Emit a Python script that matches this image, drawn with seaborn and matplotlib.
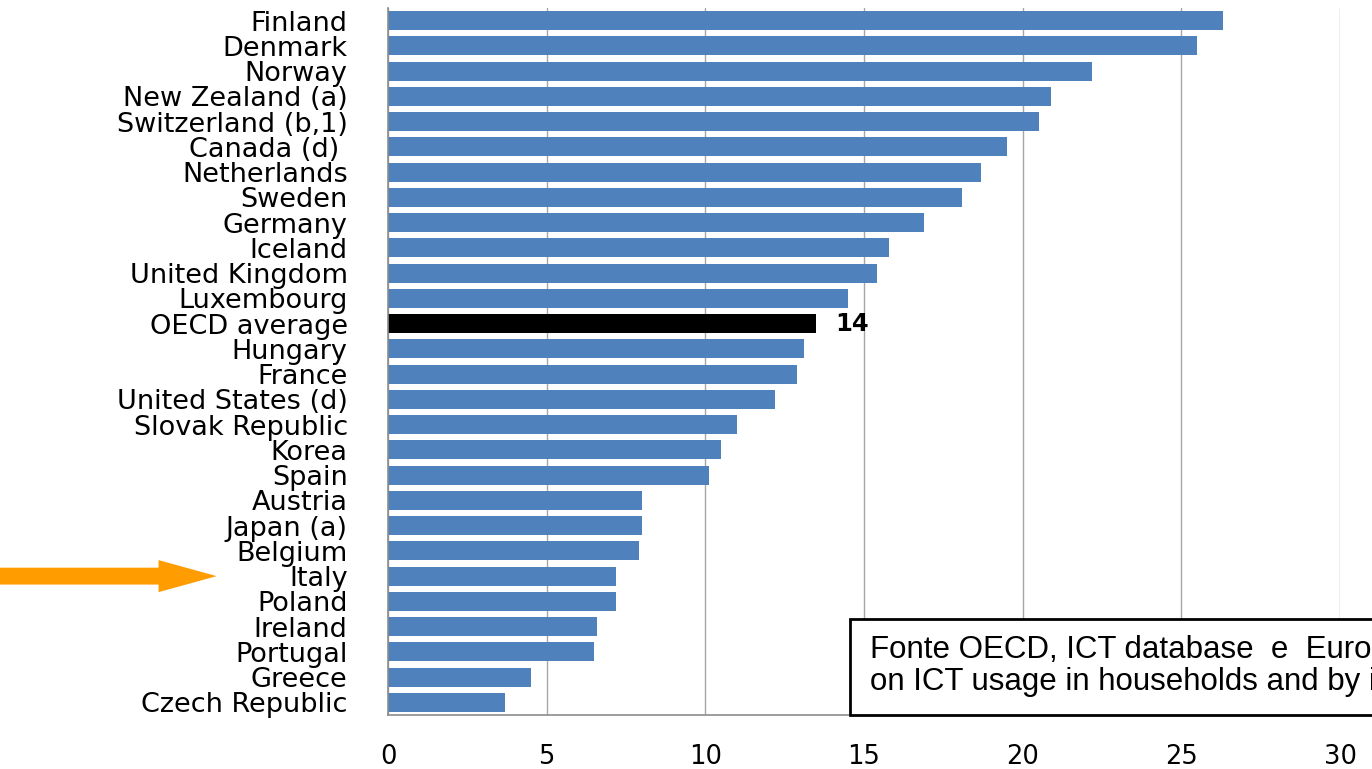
import pandas as pd
import seaborn as sns
import matplotlib.pyplot as plt
from matplotlib.patches import FancyArrow, Rectangle

countries = ["Finland", "Denmark", "Norway", "New Zealand (a)", "Switzerland (b,1)",
             "Canada (d) ", "Netherlands", "Sweden", "Germany", "Iceland",
             "United Kingdom", "Luxembourg", "OECD average", "Hungary", "France",
             "United States (d)", "Slovak Republic", "Korea", "Spain", "Austria",
             "Japan (a)", "Belgium", "Italy", "Poland", "Ireland", "Portugal",
             "Greece", "Czech Republic"]
values = [26.3, 25.5, 22.2, 20.9, 20.5, 19.5, 18.7, 18.1, 16.9, 15.8,
          15.4, 14.5, 13.5, 13.1, 12.9, 12.2, 11.0, 10.5, 10.1, 8.0,
          8.0, 7.9, 7.2, 7.2, 6.6, 6.5, 4.5, 3.7]
highlight = "OECD average"
pointed = "Italy"
source_text = ("Fonte OECD, ICT database  e  Eurostat, Community Survey\n"
               "on ICT usage in households and by individuals")


def main():
    df = pd.DataFrame({"country": countries, "value": values})
    colors = {c: ("black" if c == highlight else "#4F81BD") for c in countries}

    sns.set_style("white")
    plt.rcParams["font.family"] = ["DejaVu Sans"]
    plt.rcParams["text.color"] = "black"
    plt.rcParams["xtick.color"] = "black"
    plt.rcParams["ytick.color"] = "black"

    fig = plt.figure(figsize=(13.72, 7.69), dpi=100)
    ax = fig.add_axes([388 / 1372, 1 - 715 / 769, 952 / 1372, 707 / 769])

    sns.barplot(data=df, y="country", x="value", hue="country", palette=colors,
                legend=False, width=0.75, saturation=1, ax=ax,
                edgecolor="none", linewidth=0)

    ax.set_axisbelow(True)
    ax.set_xlim(0, 30)
    ax.set_ylim(len(countries) - 0.5, -0.5)
    ax.set_xticks(range(0, 31, 5))
    ax.grid(axis="x", color="#a6a6a6", lw=1)
    ax.grid(axis="y", visible=False)
    ax.set_xlabel("")
    ax.set_ylabel("")
    for s in ["top", "right"]:
        ax.spines[s].set_visible(False)
    for s in ["left", "bottom"]:
        ax.spines[s].set_color("#8c8c8c")
        ax.spines[s].set_linewidth(1.2)
    ax.tick_params(axis="y", length=0, pad=29, labelsize=19.5)
    ax.tick_params(axis="x", length=0, pad=21, labelsize=18.5)

    i = countries.index(highlight)
    ax.text(values[i] + 0.6, i, f"{values[i]:.0f}", va="center", ha="left",
            fontsize=17.5, fontweight="bold")

    # orange arrow pointing at Italy
    j = countries.index(pointed)
    arrow = FancyArrow(-0.41, j, 0.23, 0, width=0.67, head_width=1.27,
                       head_length=0.061, length_includes_head=True,
                       color="#FF9C00", lw=0, transform=ax.get_yaxis_transform(),
                       clip_on=False)
    ax.add_patch(arrow)

    # source box, cut by the right edge like the original
    fig.patches.append(Rectangle((850 / 1372, 1 - 715 / 769), 0.5, 96 / 769,
                                 transform=fig.transFigure, fc="white",
                                 ec="black", lw=2, zorder=5))
    fig.text(870 / 1372, 1 - 666 / 769, source_text,
             family=["Liberation Sans", "DejaVu Sans"], fontsize=22.5,
             va="center", ha="left", linespacing=1.06, zorder=6)

    fig.savefig("out.png")


if __name__ == "__main__":
    main()
